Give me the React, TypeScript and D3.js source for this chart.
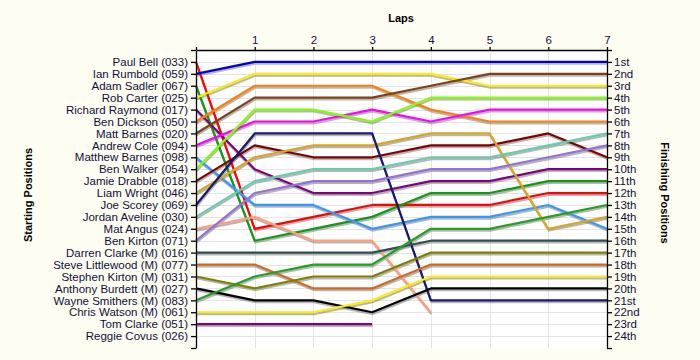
import React, { useEffect, useRef } from "react";
import * as d3 from "d3";

const drivers = [
  "Paul Bell (033)", "Ian Rumbold (059)", "Adam Sadler (067)", "Rob Carter (025)",
  "Richard Raymond (017)", "Ben Dickson (050)", "Matt Barnes (020)", "Andrew Cole (094)",
  "Matthew Barnes (098)", "Ben Walker (054)", "Jamie Drabble (018)", "Liam Wright (046)",
  "Joe Scorey (069)", "Jordan Aveline (030)", "Mat Angus (024)", "Ben Kirton (071)",
  "Darren Clarke (M) (016)", "Steve Littlewood (M) (077)", "Stephen Kirton (M) (031)",
  "Anthony Burdett (M) (027)", "Wayne Smithers (M) (083)", "Chris Watson (M) (061)",
  "Tom Clarke (051)", "Reggie Covus (026)",
];

const lineColors = [
  "#ff0000", "#0000cc", "#119911", "#ffee00",
  "#800080", "#ff8000", "#804010", "#ff00ff",
  "#3399ff", "#80ff00", "#800000", "#daa520",
  "#191970", "#66cdaa", "#ffa07a", "#9370db",
  "#2f4f4f", "#d2691e", "#808000", "#000000",
  "#22a022", "#ffee00", "#800080", "#888888",
];

// position of each driver at laps 0..n
const lapPositions: number[][] = [
  [1, 15, 14, 13, 13, 13, 12, 12],
  [2, 1, 1, 1, 1, 1, 1, 1],
  [3, 16, 15, 14, 12, 12, 11, 11],
  [4, 2, 2, 2, 2, 3, 3, 3],
  [5, 10, 12, 12, 11, 11, 10, 10],
  [6, 3, 3, 3, 5, 6, 6, 6],
  [7, 4, 4, 4, 3, 2, 2, 2],
  [8, 6, 6, 5, 6, 5, 5, 5],
  [9, 13, 13, 15, 14, 14, 13, 15],
  [10, 5, 5, 6, 4, 4, 4, 4],
  [11, 8, 9, 9, 8, 8, 7, 9],
  [12, 9, 8, 8, 7, 7, 15, 14],
  [13, 7, 7, 7, 21, 21, 21, 21],
  [14, 11, 10, 10, 9, 9, 8, 7],
  [15, 14, 16, 16, 22],
  [16, 12, 11, 11, 10, 10, 9, 8],
  [17, 17, 17, 17, 16, 16, 16, 16],
  [18, 18, 20, 20, 18, 18, 18, 18],
  [19, 20, 19, 19, 17, 17, 17, 17],
  [20, 21, 21, 22, 20, 20, 20, 20],
  [21, 19, 18, 18, 15, 15, 14, 13],
  [22, 22, 22, 21, 19, 19, 19, 19],
  [23, 23, 23, 23],
  [],
];

const laps = [0, 1, 2, 3, 4, 5, 6, 7];
const finishLabels = [
  "1st", "2nd", "3rd", "4th", "5th", "6th", "7th", "8th", "9th", "10th", "11th", "12th",
  "13th", "14th", "15th", "16th", "17th", "18th", "19th", "20th", "21st", "22nd", "23rd", "24th",
];

const W = 700, H = 360;
const FONT = "'Liberation Sans', Arial, sans-serif";

export default function App() {
  const ref = useRef<SVGSVGElement>(null);
  useEffect(() => {
    const svg = d3.select(ref.current);
    svg.selectAll("*").remove();
    const x = d3.scaleLinear().domain([0, 7]).range([196, 607]);
    const y = d3.scaleLinear().domain([0, 25]).range([50, 348]);
    const nPos = drivers.length;

    svg.append("rect").attr("width", W).attr("height", H).attr("fill", "#fdfdf2");
    svg.append("rect").attr("x", x(0)).attr("y", y(0)).attr("width", x(7) - x(0))
      .attr("height", y(25) - y(0)).attr("fill", "#ffffff");

    const grid = svg.append("g").attr("stroke", "#e4e4e4").attr("stroke-width", 1);
    d3.range(1, nPos + 1).forEach((p) => {
      grid.append("line").attr("x1", x(0)).attr("x2", x(7))
        .attr("y1", Math.round(y(p)) + 0.5).attr("y2", Math.round(y(p)) + 0.5);
    });
    laps.slice(1, 7).forEach((l) => {
      grid.append("line").attr("y1", y(0)).attr("y2", y(25))
        .attr("x1", Math.round(x(l)) + 0.5).attr("x2", Math.round(x(l)) + 0.5);
    });

    const line = d3.line<number>().x((_, i) => x(laps[i])).y((p) => y(p));
    const shadows = svg.append("g").attr("transform", "translate(0.5,1.8)");
    const lines = svg.append("g");
    lapPositions.forEach((ps) => {
      if (ps.length < 2) return;
      shadows.append("path").attr("d", line(ps)).attr("fill", "none")
        .attr("stroke", "#7a7a7a").attr("stroke-opacity", 0.55).attr("stroke-width", 2.2);
    });
    lapPositions.forEach((ps, i) => {
      if (ps.length < 2) return;
      lines.append("path").attr("d", line(ps)).attr("fill", "none")
        .attr("stroke", lineColors[i]).attr("stroke-width", 2.2)
        .attr("stroke-linejoin", "round");
    });

    const styleAxis = (g: any) => {
      g.selectAll("path, line").attr("stroke", "#000").attr("stroke-width", 1.3);
      g.selectAll("text").attr("font-family", FONT).attr("font-size", 11.5).attr("fill", "#10103a");
    };

    const topAxis = d3.axisTop(x).tickValues(laps)
      .tickFormat((d: any) => (d === 0 ? "" : String(d))).tickSizeInner(3).tickSizeOuter(0).tickPadding(3);
    svg.append("g").attr("transform", `translate(0,${y(0)})`).call(topAxis).call(styleAxis);

    const leftAxis = d3.axisLeft(y).tickValues(d3.range(0, nPos + 2))
      .tickFormat((d: any) => (d >= 1 && d <= nPos ? drivers[d - 1] : "")).tickSizeInner(5).tickSizeOuter(0).tickPadding(3);
    svg.append("g").attr("transform", `translate(${x(0)},0)`).call(leftAxis).call(styleAxis);

    const rightAxis = d3.axisRight(y).tickValues(d3.range(0, nPos + 2))
      .tickFormat((d: any) => (d >= 1 && d <= nPos ? finishLabels[d - 1] : "")).tickSizeInner(5).tickSizeOuter(0).tickPadding(2);
    svg.append("g").attr("transform", `translate(${x(7)},0)`).call(rightAxis).call(styleAxis);

    const titleStyle = (t: any) => t.attr("font-family", FONT).attr("font-size", 11)
      .attr("font-weight", "bold").attr("fill", "#000").attr("text-anchor", "middle");
    svg.append("text").attr("x", 401).attr("y", 22).text("Laps").call(titleStyle);
    svg.append("text").attr("transform", "translate(32,195) rotate(-90)").text("Starting Positions").call(titleStyle);
    svg.append("text").attr("transform", "translate(661,193) rotate(90)").text("Finishing Positions").call(titleStyle);
  }, []);
  return (
    <svg ref={ref} width={W} height={H} style={{ position: "absolute", left: 0, top: 0, display: "block" }} />
  );
}
